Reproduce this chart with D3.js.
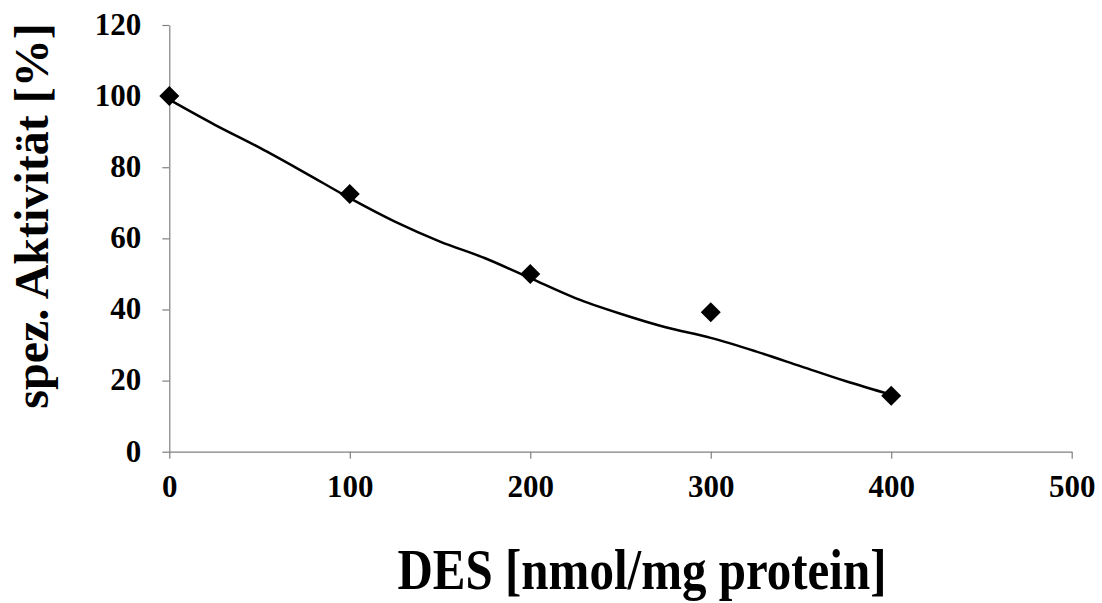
<!DOCTYPE html>
<html>
<head>
<meta charset="utf-8">
<script src="https://cdn.jsdelivr.net/npm/d3@7"></script>
<style>
  body { margin: 0; background: #fff; }
  svg text { font-family: "Liberation Serif", "Times New Roman", serif; font-weight: bold; fill: #000; }
</style>
</head>
<body>
<div id="chart"></div>
<script>
// measured data (DES dose vs specific activity)
var desDose = [0, 100, 200, 300, 400];
var activity = [100, 72.5, 50, 39.2, 15.7];

// trend line
var trendX = [0, 25, 50, 75, 100, 125, 150, 175, 200, 225, 250, 275, 300, 325, 350, 375, 400];
var trendY = [99, 92, 85.5, 78.5, 71.3, 64.7, 59.1, 54.4, 48.8, 43.2, 38.8, 35, 32, 28.2, 24, 19.8, 16];

var xTicks = [0, 100, 200, 300, 400, 500];
var yTicks = [0, 20, 40, 60, 80, 100, 120];

var svgWidth = 1102;
var svgHeight = 603;

var margin = { top: 25, right: 30.3, bottom: 151.3, left: 169.3 };
var width = svgWidth - margin.left - margin.right;
var height = svgHeight - margin.top - margin.bottom;

var svg = d3.select("#chart").append("svg")
  .attr("width", svgWidth)
  .attr("height", svgHeight);

var chartGroup = svg.append("g")
  .attr("transform", `translate(${margin.left}, ${margin.top})`);

var xScale = d3.scaleLinear().domain([0, 500]).range([0, width]);
var yScale = d3.scaleLinear().domain([0, 120]).range([height, 0]);

// axes
var bottomAxis = d3.axisBottom(xScale).tickValues(xTicks).tickSize(7).tickSizeOuter(0).tickPadding(16);
var leftAxis = d3.axisLeft(yScale).tickValues(yTicks).tickSize(7).tickSizeOuter(0).tickPadding(21);

var yAxisG = chartGroup.append("g").call(leftAxis);
var xAxisG = chartGroup.append("g")
  .attr("transform", `translate(0, ${height})`)
  .call(bottomAxis);

[xAxisG, yAxisG].forEach(function(g) {
  g.select(".domain").attr("stroke", "#808080").attr("stroke-width", 1.2);
  g.selectAll(".tick line").attr("stroke", "#808080").attr("stroke-width", 1.2);
  g.selectAll("text").attr("font-size", "31px").attr("fill", "#000")
    .style("font-family", "'Liberation Serif', serif").style("font-weight", "bold");
});
yAxisG.selectAll("text").attr("dy", "0.3em");
xAxisG.selectAll("text").attr("dy", "0.71em");

// trend line
var trendData = trendX.map((x, i) => ({ x: x, y: trendY[i] }));
var line = d3.line()
  .x(d => xScale(d.x))
  .y(d => yScale(d.y))
  .curve(d3.curveCatmullRom);

chartGroup.append("path")
  .datum(trendData)
  .attr("d", line)
  .attr("fill", "none")
  .attr("stroke", "#000")
  .attr("stroke-width", 2.5);

// diamond markers
var diamond = d3.symbol().type(d3.symbolSquare).size(200);
chartGroup.selectAll(".point")
  .data(desDose.map((x, i) => ({ x: x, y: activity[i] })))
  .enter()
  .append("path")
  .attr("class", "point")
  .attr("d", diamond)
  .attr("transform", d => `translate(${xScale(d.x)}, ${yScale(d.y)}) rotate(45)`)
  .attr("fill", "#000");

// axis titles
svg.append("text")
  .attr("transform", "translate(48, 216) rotate(-90)")
  .attr("text-anchor", "middle")
  .attr("font-size", "48px")
  .text("spez. Aktivität [%]");

svg.append("text")
  .attr("transform", "translate(642, 589) scale(1, 1.15)")
  .attr("text-anchor", "middle")
  .attr("font-size", "49px")
  .text("DES [nmol/mg protein]");
</script>
</body>
</html>
